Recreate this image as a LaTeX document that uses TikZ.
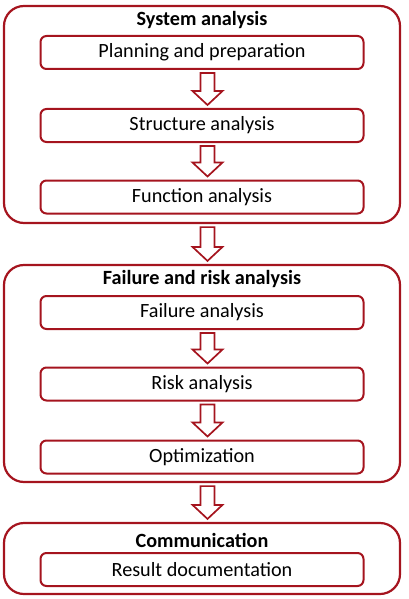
\documentclass[tikz,border=0pt]{standalone}
\usepackage{fontspec}
\setmainfont{Carlito}
\usepackage{tikz}
\usetikzlibrary{calc}

\definecolor{fmeared}{RGB}{165,20,30}

% hollow block arrow between two named nodes
\newcommand{\flowarrow}[2]{%
  \draw[flowline] let \p1=(#1.south), \p2=(#2.north) in
    (\x1-1.5pt,\y1-3pt) -- (\x1+12.5pt,\y1-3pt) -- (\x1+12.5pt,\y2+17pt)
    -- (\x1+20.5pt,\y2+17pt) -- (\x1+5.5pt,\y2+3pt) -- (\x1-9.5pt,\y2+17pt)
    -- (\x1-1.5pt,\y2+17pt) -- cycle;}

\begin{document}
\begin{tikzpicture}[x=1pt,y=-1pt,
	font=\fontsize{20.2}{24}\selectfont,
	groupbox/.style={draw=fmeared,line width=2.2pt,rounded corners=20pt,minimum width=396pt,inner sep=0pt},
	stepbox/.style={draw=fmeared,line width=2pt,rounded corners=6pt,minimum width=323pt,minimum height=33pt,inner sep=0pt},
	grouptitle/.style={font=\fontsize{20.2}{24}\selectfont\bfseries,inner sep=0pt},
	flowline/.style={draw=fmeared,fill=white,line width=1.7pt,line join=miter}]
	\useasboundingbox (0,0) rectangle (408,599);
	% system analysis
	\node[groupbox,minimum height=217pt] (sys) at (202,114.5) {};
	\node[grouptitle] (systitle) at (202,20) {System analysis};
	\node[stepbox] (plan) at (202,52.5) {Planning and preparation};
	\node[stepbox] (struct) at (202,125.5) {Structure analysis};
	\node[stepbox] (func) at (202,197) {Function analysis};
	% failure and risk analysis
	\node[groupbox,minimum height=217pt] (risk) at (202,373.5) {};
	\node[grouptitle] (risktitle) at (202,279) {Failure and risk analysis};
	\node[stepbox] (fail) at (202,312.5) {Failure analysis};
	\node[stepbox] (riskan) at (202,384) {Risk analysis};
	\node[stepbox] (opt) at (202,457) {Optimization};
	% communication
	\node[groupbox,minimum height=71pt] (comm) at (202,558.5) {};
	\node[grouptitle] (commtitle) at (202,540) {Communication};
	\node[stepbox] (doc) at (202,569.5) {Result documentation};
	% arrows
	\flowarrow{plan}{struct}
	\flowarrow{struct}{func}
	\flowarrow{sys}{risk}
	\flowarrow{fail}{riskan}
	\flowarrow{riskan}{opt}
	\flowarrow{risk}{comm}
\end{tikzpicture}
\end{document}
